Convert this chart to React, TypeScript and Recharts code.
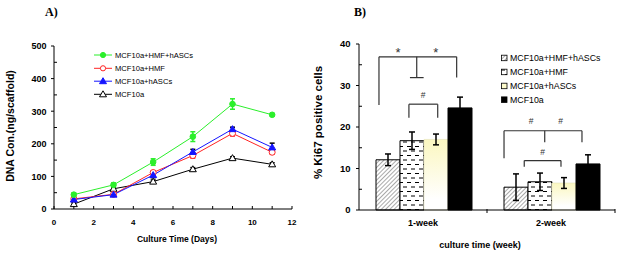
import React from "react";
import {
  LineChart,
  Line,
  BarChart,
  Bar,
  XAxis,
  YAxis,
  ErrorBar,
  ReferenceLine,
  ReferenceDot,
} from "recharts";

const SANS = "Arial, 'Liberation Sans', Helvetica, sans-serif";
const SERIF = "'Times New Roman', 'Liberation Serif', serif";

// ---- panel A: DNA content over culture days
const days = [1, 3, 5, 7, 9, 11];
const triple = [44, 74, 144, 222, 322, 289];
const tripleErr = [5, 6, 10, 15, 16, 4];
const withHmf = [31, 45, 112, 164, 232, 174];
const withHmfErr = [4, 4, 5, 8, 8, 6];
const withHascs = [29, 44, 104, 175, 245, 189];
const withHascsErr = [3, 4, 8, 8, 6, 13];
const alone = [15, 62, 84, 122, 156, 137];
const aloneErr = [4, 5, 5, 5, 4, 5];
const dnaTicks = [0, 50, 100, 150, 200, 250, 300, 350, 400, 450, 500];
const dayTicks = [0, 1, 2, 3, 4, 5, 6, 7, 8, 9, 10, 11, 12];

// ---- panel B: Ki67 positive cells (groups sit at 0.5 and 1.5 on a 0..2 axis)
const weeks = ["1-week", "2-week"];
const weekPos = [0.5, 1.5];
const weekTicks = [0, 0.5, 1, 1.5, 2];
const kiTriple = [12.1, 5.5];
const kiTripleErr = [1.4, 3.2];
const kiHmf = [16.7, 6.8];
const kiHmfErr = [2.1, 2.1];
const kiHascs = [17.0, 6.5];
const kiHascsErr = [1.3, 1.3];
const kiAlone = [24.6, 11.1];
const kiAloneErr = [2.6, 2.2];
const kiTicks = [0, 5, 10, 15, 20, 25, 30, 35, 40];

// significance brackets, x in group units, y in %
const bracketX1 = [0.156, 0.39, 1.133, 1.291];
const bracketX2 = [0.763, 0.615, 1.742, 1.578];
const bracketTop = [36.9, 25.5, 19.1, 11.9];
const bracketLeftEnd = [25.3, 22.2, 12.5, 10.4];
const bracketRightEnd = [31.9, 22.2, 16.3, 10.4];
const stemX = [0.451, null, 1.451, null];
const capX1 = [0.398, null, null, null];
const capX2 = [0.505, null, null, null];
const markText = ["*", "*", "#", "#", "#", "#"];
const markX = [0.305, 0.6, 0.5, 1.344, 1.576, 1.435];
const markY = [38.6, 38.6, 27.7, 21.4, 21.4, 14.0];

const lineData = days.map((d, i) => ({
  day: d,
  triple: triple[i],
  tripleErr: tripleErr[i],
  hmf: withHmf[i],
  hmfErr: withHmfErr[i],
  hascs: withHascs[i],
  hascsErr: withHascsErr[i],
  alone: alone[i],
  aloneErr: aloneErr[i],
}));

const barData = weeks.map((w, i) => ({
  week: w,
  pos: weekPos[i],
  triple: kiTriple[i],
  tripleErr: kiTripleErr[i],
  hmf: kiHmf[i],
  hmfErr: kiHmfErr[i],
  hascs: kiHascs[i],
  hascsErr: kiHascsErr[i],
  alone: kiAlone[i],
  aloneErr: kiAloneErr[i],
}));

const GREEN = "#2bef2b";
const RED = "#ff2424";
const BLUE = "#1515ff";
const BRACKET = "#333";

function Triangle({ cx, cy, fill, stroke }: any) {
  return (
    <path
      d={`M${cx},${cy - 3.5} L${cx + 3.5},${cy + 2.5} L${cx - 3.5},${cy + 2.5} Z`}
      fill={fill}
      stroke={stroke}
      strokeWidth={1}
    />
  );
}

function DayTick({ x, y, payload }: any) {
  const v = payload.value;
  return (
    <g>
      <line x1={x} x2={x} y1={y} y2={y - 3} stroke="#000" />
      {v % 2 === 0 && (
        <text x={x} y={y + 15.5} textAnchor="middle" fontSize={8} fontWeight="bold" fontFamily={SANS}>
          {v}
        </text>
      )}
    </g>
  );
}

function DnaTick({ x, y, payload }: any) {
  const v = payload.value;
  const major = v % 100 === 0;
  return (
    <g>
      <line x1={major ? x - 3 : x} x2={major ? x : x + 3} y1={y} y2={y} stroke="#000" />
      {major && (
        <text x={x - 7.5} y={y + 3.3} textAnchor="end" fontSize={9} fontWeight="bold" fontFamily={SANS}>
          {v}
        </text>
      )}
    </g>
  );
}

function KiTick({ x, y, payload }: any) {
  const v = payload.value;
  const major = v % 10 === 0;
  return (
    <g>
      <line x1={major ? x - 3 : x} x2={major ? x : x + 3} y1={y} y2={y} stroke="#000" />
      {major && (
        <text x={x - 8.5} y={y + 3.4} textAnchor="end" fontSize={9.5} fontWeight="bold" fontFamily={SANS}>
          {v}
        </text>
      )}
    </g>
  );
}

function WeekTick({ x, y, payload }: any) {
  const v = payload.value;
  const idx = weekPos.indexOf(v);
  if (idx < 0) {
    return v === 0 ? <g /> : <line x1={x} x2={x} y1={y - 1} y2={y + 3} stroke="#000" />;
  }
  return (
    <text x={x} y={y + 16} textAnchor="middle" fontSize={9} fontWeight="bold" fontFamily={SANS}>
      {weeks[idx]}
    </text>
  );
}

function Defs() {
  return (
    <defs>
      <pattern id="hatch" width="3" height="3" patternUnits="userSpaceOnUse" patternTransform="rotate(45)">
        <rect width="3" height="3" fill="#fff" />
        <line x1="0" y1="0" x2="0" y2="3" stroke="#555" strokeWidth="1" />
      </pattern>
      <pattern id="dashes" width="8" height="9" patternUnits="userSpaceOnUse">
        <rect width="8" height="9" fill="#fff" />
        <line x1="1" y1="2.5" x2="5" y2="2.5" stroke="#000" strokeWidth="1" />
        <line x1="5" y1="7" x2="9" y2="7" stroke="#000" strokeWidth="1" />
        <line x1="-3" y1="7" x2="1" y2="7" stroke="#000" strokeWidth="1" />
      </pattern>
      <linearGradient id="cream" x1="0" y1="0" x2="0" y2="1">
        <stop offset="0%" stopColor="#fbf7c0" />
        <stop offset="85%" stopColor="#ffffff" />
      </linearGradient>
    </defs>
  );
}

const lineLegend = [
  { name: "MCF10a+HMF+hASCs", color: GREEN, kind: "circle", filled: true },
  { name: "MCF10a+HMF", color: RED, kind: "circle", filled: false },
  { name: "MCF10a+hASCs", color: BLUE, kind: "tri", filled: true },
  { name: "MCF10a", color: "#000", kind: "tri", filled: false },
];
const lineLegendY = [55, 68.3, 81.2, 94.3];

const barLegend = [
  { name: "MCF10a+HMF+hASCs", fill: "url(#hatch)" },
  { name: "MCF10a+HMF", fill: "url(#dashes)" },
  { name: "MCF10a+hASCs", fill: "#fdfbcc" },
  { name: "MCF10a", fill: "#000" },
];
const barLegendY = [58, 72, 86, 99.7];

function Seg({ x1, y1, x2, y2 }: { x1: number; y1: number; x2: number; y2: number }) {
  return (
    <ReferenceLine
      segment={[{ x: x1, y: y1 }, { x: x2, y: y2 }]}
      stroke={BRACKET}
      strokeWidth={1.2}
      ifOverflow="visible"
    />
  );
}

export default function App() {
  return (
    <div style={{ position: "absolute", left: 0, top: 0, width: 622, height: 253, background: "#fff" }}>
      {/* A) line chart */}
      <div style={{ position: "absolute", left: 0, top: 0 }}>
        <LineChart width={310} height={253} data={lineData} margin={{ top: 46, right: 18, bottom: 14, left: 14 }}>
          <XAxis
            dataKey="day"
            type="number"
            domain={[0, 12]}
            ticks={dayTicks}
            interval={0}
            height={30}
            tickSize={0}
            tickMargin={0}
            tickLine={false}
            stroke="#000"
            tick={<DayTick />}
          />
          <YAxis
            type="number"
            domain={[0, 500]}
            ticks={dnaTicks}
            interval={0}
            width={40}
            tickSize={0}
            tickMargin={0}
            tickLine={false}
            stroke="#000"
            tick={<DnaTick />}
          />
          <Line
            dataKey="alone"
            stroke="#000"
            strokeWidth={1}
            isAnimationActive={false}
            dot={(p: any) => <Triangle key={`a${p.index}`} cx={p.cx} cy={p.cy} fill="#fff" stroke="#000" />}
          >
            <ErrorBar dataKey="aloneErr" width={2.5} stroke="#000" direction="y" />
          </Line>
          <Line
            dataKey="hmf"
            stroke={RED}
            strokeWidth={1}
            isAnimationActive={false}
            dot={(p: any) => (
              <circle key={`r${p.index}`} cx={p.cx} cy={p.cy} r={3} fill="#fff" stroke={RED} strokeWidth={1} />
            )}
          >
            <ErrorBar dataKey="hmfErr" width={2.5} stroke={RED} direction="y" />
          </Line>
          <Line
            dataKey="hascs"
            stroke={BLUE}
            strokeWidth={1}
            isAnimationActive={false}
            dot={(p: any) => <Triangle key={`b${p.index}`} cx={p.cx} cy={p.cy} fill={BLUE} stroke={BLUE} />}
          >
            <ErrorBar dataKey="hascsErr" width={2.5} stroke="#000" direction="y" />
          </Line>
          <Line
            dataKey="triple"
            stroke={GREEN}
            strokeWidth={1}
            isAnimationActive={false}
            dot={(p: any) => (
              <circle key={`g${p.index}`} cx={p.cx} cy={p.cy} r={2.8} fill={GREEN} stroke={GREEN} />
            )}
          >
            <ErrorBar dataKey="tripleErr" width={2.5} stroke={GREEN} direction="y" />
          </Line>
        </LineChart>
      </div>

      {/* B) bar chart */}
      <div style={{ position: "absolute", left: 310, top: 0 }}>
        <BarChart
          width={312}
          height={253}
          data={barData}
          margin={{ top: 44, right: 7, bottom: 13, left: 9 }}
          barCategoryGap={17}
          barGap={0}
        >
          <Defs />
          <XAxis
            dataKey="pos"
            type="number"
            domain={[0, 2]}
            allowDataOverflow
            ticks={weekTicks}
            interval={0}
            height={30}
            tickSize={0}
            tickMargin={0}
            tickLine={false}
            stroke="#000"
            tick={<WeekTick />}
          />
          <YAxis
            type="number"
            domain={[0, 40]}
            ticks={kiTicks}
            interval={0}
            width={40}
            tickSize={0}
            tickMargin={0}
            tickLine={false}
            stroke="#000"
            tick={<KiTick />}
          />
          <Bar dataKey="triple" fill="url(#hatch)" stroke="#000" strokeWidth={1} isAnimationActive={false}>
            <ErrorBar dataKey="tripleErr" width={3} stroke="#000" direction="y" />
          </Bar>
          <Bar dataKey="hmf" fill="url(#dashes)" stroke="#000" strokeWidth={1} isAnimationActive={false}>
            <ErrorBar dataKey="hmfErr" width={3} stroke="#000" direction="y" />
          </Bar>
          <Bar dataKey="hascs" fill="url(#cream)" stroke="#e4e2b8" strokeWidth={0.6} isAnimationActive={false}>
            <ErrorBar dataKey="hascsErr" width={3} stroke="#000" direction="y" />
          </Bar>
          <Bar dataKey="alone" fill="#000" stroke="#000" strokeWidth={1} isAnimationActive={false}>
            <ErrorBar dataKey="aloneErr" width={3} stroke="#000" direction="y" />
          </Bar>

          {/* significance brackets */}
          {bracketX1.map((x1, i) => Seg({ x1, y1: bracketTop[i], x2: bracketX2[i], y2: bracketTop[i] }))}
          {bracketX1.map((x1, i) => Seg({ x1, y1: bracketTop[i], x2: x1, y2: bracketLeftEnd[i] }))}
          {bracketX2.map((x2, i) => Seg({ x1: x2, y1: bracketTop[i], x2, y2: bracketRightEnd[i] }))}
          {stemX.map((sx, i) =>
            sx === null ? null : Seg({ x1: sx, y1: bracketTop[i], x2: sx, y2: bracketRightEnd[i] })
          )}
          {capX1.map((cx, i) =>
            cx === null ? null : Seg({ x1: cx, y1: bracketRightEnd[i], x2: capX2[i] as number, y2: bracketRightEnd[i] })
          )}
          {markText.map((t, i) => (
            <ReferenceDot
              key={`mk${i}`}
              x={markX[i]}
              y={markY[i]}
              ifOverflow="visible"
              shape={(p: any) => (
                <text
                  x={p.cx}
                  y={t === "*" ? p.cy + 7 : p.cy + 3}
                  textAnchor="middle"
                  fontSize={t === "*" ? 13 : 8.5}
                  fontFamily={SANS}
                  fill={BRACKET}
                >
                  {t}
                </text>
              )}
            />
          ))}
        </BarChart>
      </div>

      {/* titles and legends */}
      <svg width={622} height={253} style={{ position: "absolute", left: 0, top: 0, pointerEvents: "none" }}>
        <Defs />
        <text x={45} y={15.5} fontFamily={SERIF} fontWeight="bold" fontSize={12}>A)</text>
        <text x={354} y={15.5} fontFamily={SERIF} fontWeight="bold" fontSize={12}>B)</text>

        <text
          transform="translate(14.4,126) rotate(-90)"
          textAnchor="middle"
          fontFamily={SANS}
          fontWeight="bold"
          fontSize={10.5}
        >
          DNA Con.(ng/scaffold)
        </text>
        <text x={177} y={242} textAnchor="middle" fontFamily={SANS} fontWeight="bold" fontSize={8.5}>
          Culture Time (Days)
        </text>
        <text
          transform="translate(321.6,122.5) rotate(-90)"
          textAnchor="middle"
          fontFamily={SANS}
          fontWeight="bold"
          fontSize={11.5}
        >
          % Ki67 positive cells
        </text>
        <text x={480} y={247.5} textAnchor="middle" fontFamily={SANS} fontWeight="bold" fontSize={9}>
          culture time (week)
        </text>

        {lineLegend.map((item, i) => {
          const y = lineLegendY[i];
          return (
            <g key={item.name}>
              <line x1={94} x2={112} y1={y} y2={y} stroke={item.color} strokeWidth={1} />
              {item.kind === "circle" ? (
                <circle cx={103} cy={y} r={2.6} fill={item.filled ? item.color : "#fff"} stroke={item.color} />
              ) : (
                <Triangle cx={103} cy={y} fill={item.filled ? item.color : "#fff"} stroke={item.color} />
              )}
              <text x={115} y={y + 2.7} fontFamily={SANS} fontSize={7.6}>
                {item.name}
              </text>
            </g>
          );
        })}

        {barLegend.map((item, i) => {
          const y = barLegendY[i];
          return (
            <g key={item.name}>
              <rect x={501.5} y={y - 2.8} width={5.5} height={5.5} fill={item.fill} stroke="#000" strokeWidth={0.8} />
              <text x={510} y={y + 3.2} fontFamily={SANS} fontSize={8.8}>
                {item.name}
              </text>
            </g>
          );
        })}
      </svg>
    </div>
  );
}
